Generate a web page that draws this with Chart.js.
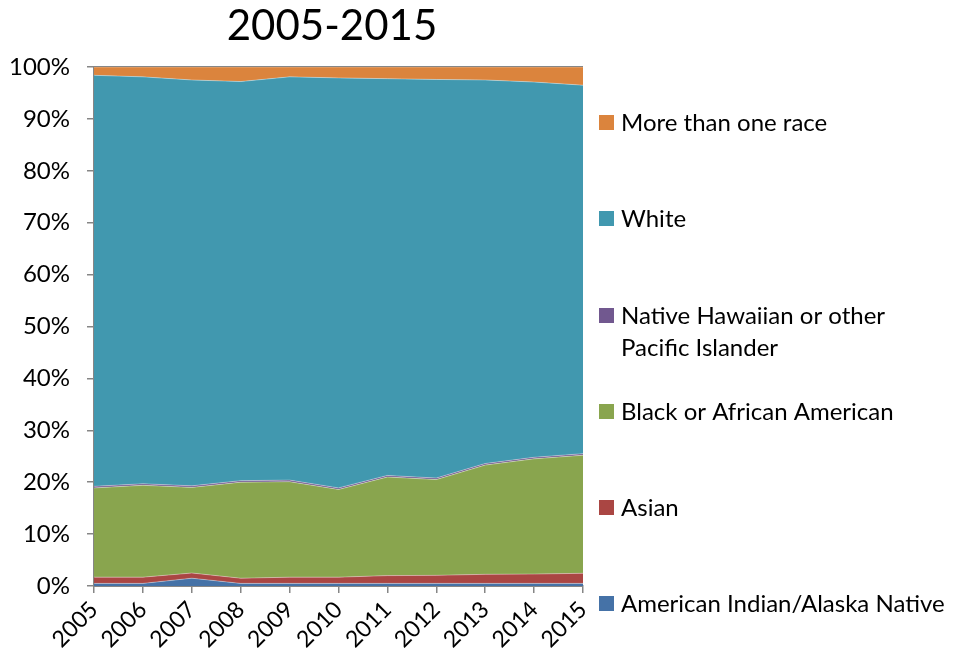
<!DOCTYPE html>
<html lang="en">
  <head>
    <meta charset="UTF-8" />
    <title>2005-2015</title>
    <style>
      body {
        margin: 0;
        padding: 0;
        background-color: #fff;
        overflow: hidden;
      }
    </style>
  </head>
  <body>
    <canvas id="area-chart" width="953" height="661"></canvas>

    <script src="https://cdn.jsdelivr.net/npm/chart.js@4/dist/chart.umd.min.js"></script>
    <script>
      const years = ["2005", "2006", "2007", "2008", "2009", "2010", "2011", "2012", "2013", "2014", "2015"];

      // percent of total, bottom to top
      const americanIndian = [0.5, 0.5, 1.5, 0.5, 0.5, 0.5, 0.5, 0.5, 0.5, 0.5, 0.5];
      const asian = [1.2, 1.2, 1.0, 1.0, 1.2, 1.2, 1.5, 1.55, 1.75, 1.8, 1.95];
      const black = [17.2, 17.7, 16.5, 18.5, 18.4, 16.9, 19.0, 18.45, 21.05, 22.2, 22.75];
      const nativeHawaiian = [0.3, 0.3, 0.3, 0.3, 0.3, 0.3, 0.3, 0.3, 0.3, 0.3, 0.3];
      const white = [79.2, 78.4, 78.2, 76.9, 77.7, 79.0, 76.45, 76.8, 73.9, 72.3, 71.0];
      const moreThanOne = [1.6, 1.9, 2.5, 2.8, 1.9, 2.1, 2.25, 2.4, 2.5, 2.9, 3.5];

      const seriesNames = [
        "American Indian/Alaska Native",
        "Asian",
        "Black or African American",
        "Native Hawaiian or other Pacific Islander",
        "White",
        "More than one race",
      ];
      const seriesColors = ["#4572A7", "#AA4643", "#89A54E", "#71588F", "#4198AF", "#DB843D"];
      const seriesValues = [americanIndian, asian, black, nativeHawaiian, white, moreThanOne];

      const FONT = "Lato, 'Open Sans', sans-serif";
      const axisGray = "#868686";

      // legend rows (top to bottom) — y centres of first line
      const legendRows = [
        { idx: 5, lines: ["More than one race"], y: 122 },
        { idx: 4, lines: ["White"], y: 218 },
        { idx: 3, lines: ["Native Hawaiian or other", "Pacific Islander"], y: 315 },
        { idx: 2, lines: ["Black or African American"], y: 411 },
        { idx: 1, lines: ["Asian"], y: 507 },
        { idx: 0, lines: ["American Indian/Alaska Native"], y: 603 },
      ];

      const titleAndLegend = {
        id: "titleAndLegend",
        afterDraw(chart) {
          const ctx = chart.ctx;
          ctx.save();
          ctx.fillStyle = "#000";
          ctx.textBaseline = "middle";
          ctx.textAlign = "center";
          ctx.font = `42px ${FONT}`;
          ctx.fillText("2005-2015", 332, 26);

          ctx.textAlign = "left";
          ctx.font = `24px ${FONT}`;
          legendRows.forEach((row) => {
            const ds = chart.data.datasets[row.idx];
            ctx.fillStyle = ds.backgroundColor;
            ctx.fillRect(599, row.y - 7, 15, 15);
            ctx.fillStyle = "#000";
            row.lines.forEach((line, i) => {
              ctx.fillText(line, 621, row.y + 1 + i * 32);
            });
          });
          ctx.restore();
        },
      };

      const datasets = seriesValues.map((vals, i) => ({
        label: seriesNames[i],
        data: vals,
        backgroundColor: seriesColors[i],
        borderColor: "rgba(255,255,255,0.35)",
        borderWidth: 1,
        fill: i === 0 ? "origin" : "-1",
        pointRadius: 0,
        tension: 0,
      }));

      const ctx = document.getElementById("area-chart").getContext("2d");
      new Chart(ctx, {
        type: "line",
        data: { labels: years, datasets },
        plugins: [titleAndLegend],
        options: {
          responsive: false,
          animation: false,
          layout: { padding: { top: 67, right: 370, bottom: 0, left: 0 } },
          plugins: {
            legend: { display: false },
            title: { display: false },
            tooltip: { enabled: false },
          },
          scales: {
            x: {
              offset: false,
              afterFit: (s) => {
                s.height = 75;
              },
              grid: {
                drawOnChartArea: false,
                tickLength: 7,
                tickColor: axisGray,
                lineWidth: 1.5,
              },
              border: { color: axisGray, width: 2 },
              ticks: {
                autoSkip: false,
                maxRotation: 45,
                minRotation: 45,
                padding: 3,
                color: "#000",
                font: { family: FONT, size: 23 },
              },
            },
            y: {
              stacked: true,
              min: 0,
              max: 100,
              afterFit: (s) => {
                s.width = 94;
              },
              grid: {
                drawOnChartArea: true,
                color: (c) => (c.tick && c.tick.value === 100 ? axisGray : "transparent"),
                tickColor: axisGray,
                tickLength: 7,
                lineWidth: 1.5,
              },
              border: { color: axisGray, width: 2 },
              ticks: {
                stepSize: 10,
                padding: 17,
                color: "#000",
                font: { family: FONT, size: 24 },
                callback: (v) => v + "%",
              },
            },
          },
        },
      });
    </script>
  </body>
</html>
